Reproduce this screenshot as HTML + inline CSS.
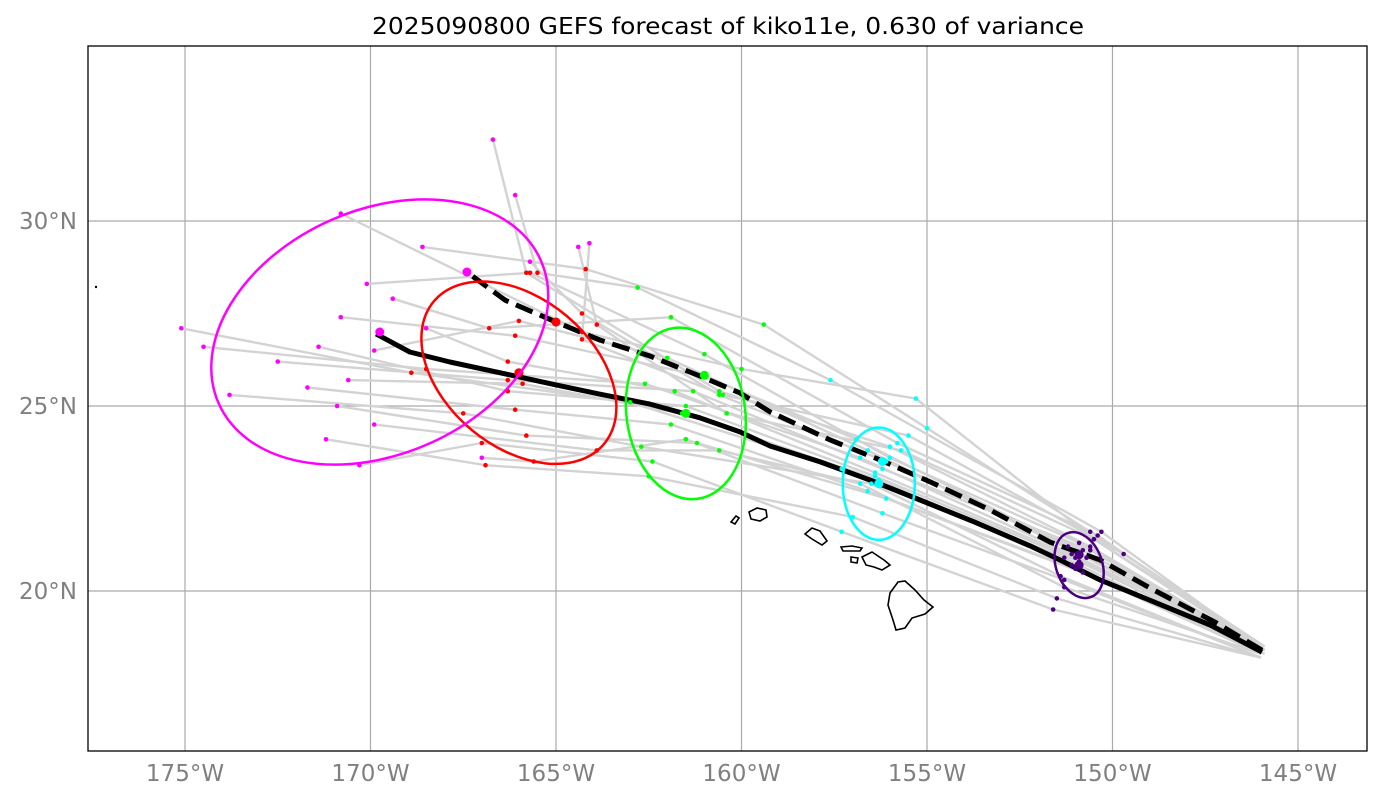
<!DOCTYPE html>
<html><head><meta charset="utf-8"><style>
body{margin:0;background:#fff;font-family:"Liberation Sans","DejaVu Sans",sans-serif}
</style></head><body>
<svg id="chart" width="1382" height="800" xmlns="http://www.w3.org/2000/svg">
<rect width="1382" height="800" fill="#fff"/>
<text x="728" y="34" font-size="23" text-anchor="middle" textLength="712" lengthAdjust="spacingAndGlyphs" font-family="DejaVu Sans, sans-serif">2025090800 GEFS forecast of kiko11e, 0.630 of variance</text>
<defs><clipPath id="clip"><rect x="88" y="46" width="1279" height="705"/></clipPath></defs>
<g id="grid"></g>
<g id="land" fill="none" stroke="#000" stroke-width="1.6">
<path d="M731,522 L736,516 L739,518 L735,524 Z"/>
<path d="M749,512 L757,508 L766,510 L767,517 L760,521 L751,519 Z"/>
<path d="M805,534 L812,528 L820,531 L827,541 L822,545 L812,539 Z"/>
<path d="M841,547 L852,546 L862,548 L860,551 L843,551 Z"/>
<path d="M851,557 L858,558 L857,563 L851,562 Z"/>
<path d="M862,557 L872,552 L878,556 L884,560 L890,565 L882,570 L874,567 L866,565 Z"/>
<path d="M890,593 L898,582 L905,581 L915,590 L924,600 L933,607 L925,614 L912,618 L905,628 L896,630 L893,620 L888,605 Z"/>
</g>
<g id="marks" clip-path="url(#clip)"></g>
<rect x="88" y="46" width="1279" height="705" fill="none" stroke="#000" stroke-width="1.3"/>
<g id="labels" font-family="DejaVu Sans, sans-serif" font-size="23" fill="#808080"></g>
</svg>
<script>
const lonTicks=[-175,-170,-165,-160,-155,-150,-145];
const lonLabels=["175°W","170°W","165°W","160°W","155°W","150°W","145°W"];
const latTicks=[20,25,30];
const latLabels=["20°N","25°N","30°N"];
const meanTrack=[[-145.97,18.35],[-147.37,19.08],[-149.53,19.97],[-150.34,20.30],[-151.42,20.84],[-152.22,21.22],[-153.71,21.86],[-155.19,22.46],[-156.54,23.0],[-157.88,23.49],[-159.23,23.92],[-160.04,24.30],[-161.12,24.68],[-162.47,25.05],[-163.81,25.32],[-165.0,25.57],[-166.24,25.84],[-167.86,26.19],[-168.94,26.46],[-169.85,26.95]];
const dashTrack=[[-145.97,18.4],[-147.24,19.16],[-148.99,20.08],[-150.34,20.84],[-151.68,21.32],[-153.30,22.19],[-154.91,22.95],[-156.26,23.54],[-157.61,24.08],[-159.23,24.84],[-160.04,25.35],[-161.12,25.81],[-162.47,26.35],[-163.81,26.78],[-165.0,27.27],[-166.37,27.86],[-167.40,28.62]];
const memberTracks=[
[[-146.0,18.3],[-151.3,20.9],[-157.3,23.3],[-163.0,25.1],[-168.9,25.9],[-175.1,27.1]],
[[-145.9,18.4],[-151.1,21.0],[-156.8,23.6],[-162.6,25.6],[-168.5,26.0],[-174.5,26.6]],
[[-146.0,18.2],[-151.4,20.4],[-156.5,22.9],[-162.7,23.9],[-167.5,24.8],[-173.8,25.3]],
[[-145.9,18.4],[-150.6,21.1],[-156.2,23.3],[-161.3,25.4],[-166.3,25.7],[-172.5,26.2]],
[[-146.0,18.3],[-151.0,20.6],[-156.6,22.7],[-161.9,24.5],[-166.1,24.9],[-171.7,25.5]],
[[-146.0,18.4],[-150.9,20.8],[-156.4,23.1],[-161.5,25.0],[-166.3,25.4],[-171.4,26.6]],
[[-146.0,18.2],[-151.5,19.8],[-157.0,22.0],[-162.5,23.1],[-166.9,23.4],[-171.2,24.1]],
[[-145.9,18.3],[-150.8,20.5],[-156.1,22.5],[-161.2,24.0],[-165.8,24.2],[-170.9,25.0]],
[[-145.9,18.4],[-150.5,21.4],[-155.3,25.2],[-160.0,26.0],[-164.3,27.0],[-170.8,30.2]],
[[-145.9,18.4],[-151.2,21.2],[-156.9,24.1],[-161.0,25.8],[-166.1,26.9],[-170.8,27.4]],
[[-146.0,18.3],[-151.1,20.7],[-156.3,23.0],[-161.6,24.8],[-165.9,25.6],[-170.6,25.7]],
[[-146.0,18.2],[-151.6,19.5],[-157.3,21.6],[-162.4,23.5],[-167.0,24.0],[-170.3,23.4]],
[[-145.9,18.4],[-150.9,21.3],[-156.0,23.6],[-161.0,26.4],[-165.7,28.6],[-170.1,28.3]],
[[-146.0,18.3],[-151.3,20.1],[-156.8,22.9],[-160.6,23.8],[-163.9,23.8],[-169.9,24.5]],
[[-145.9,18.4],[-150.7,20.9],[-156.6,23.8],[-162.0,26.3],[-166.0,27.3],[-169.9,26.5]],
[[-145.9,18.4],[-150.4,21.5],[-155.8,24.0],[-161.9,27.4],[-166.8,27.1],[-169.4,27.9]],
[[-145.9,18.5],[-150.6,21.6],[-155.0,24.4],[-159.4,27.2],[-164.2,28.7],[-168.6,29.3]],
[[-146.0,18.3],[-151.0,20.9],[-156.4,23.2],[-161.8,25.4],[-166.3,26.2],[-168.5,27.1]],
[[-145.9,18.4],[-150.6,21.2],[-156.0,23.9],[-160.6,25.4],[-165.8,28.6],[-166.7,32.2]],
[[-145.9,18.4],[-150.3,21.6],[-157.6,25.7],[-162.8,28.2],[-165.5,28.6],[-166.1,30.7]],
[[-145.9,18.4],[-150.8,21.1],[-156.1,23.5],[-160.6,25.3],[-164.3,27.5],[-165.7,28.9]],
[[-145.9,18.5],[-150.5,21.4],[-155.7,23.8],[-160.4,24.8],[-163.9,27.2],[-164.4,29.3]],
[[-145.9,18.5],[-149.7,21.0],[-155.5,24.2],[-160.5,25.3],[-164.3,26.8],[-164.1,29.4]],
[[-146.0,18.2],[-151.3,20.3],[-156.2,22.1],[-161.5,24.1],[-165.6,23.5],[-167.0,23.6]]];
const stageColors=["#4b0082","#00ffff","#00ff00","#ff0000","#ff00ff"];
const ellLon=[-150.9,-156.3,-161.5,-166.0,-169.75];
const ellLat=[20.7,22.9,24.8,25.9,27.0];
const ellRx=[0.62,0.97,1.6,2.0,4.75];
const ellRy=[0.92,1.52,2.33,3.0,3.3];
const ellRot=[-20,0,-8,-50,-24];
const detLon=[-150.9,-156.2,-161.0,-165.0,-167.4];
const detLat=[20.98,23.5,25.83,27.27,28.62];
const x=lon=>185+(lon+175)*37.1;
const y=lat=>221-(lat-30)*37;
const NS="http://www.w3.org/2000/svg";
function mk(tag,attrs,parent){const e=document.createElementNS(NS,tag);for(const k in attrs)e.setAttribute(k,attrs[k]);parent.appendChild(e);return e;}
const grid=document.getElementById('grid'),marks=document.getElementById('marks'),labels=document.getElementById('labels');
lonTicks.forEach((t,i)=>{const l=mk('line',{x1:x(t),x2:x(t),y1:46,y2:751,stroke:'#aaa','stroke-width':1.2},grid);

const tx=mk('text',{x:x(t),y:781,'text-anchor':'middle'},labels);tx.textContent=lonLabels[i];
});
latTicks.forEach((t,i)=>{const l=mk('line',{x1:88,x2:1367,y1:y(t),y2:y(t),stroke:'#aaa','stroke-width':1.2},grid);

const tx=mk('text',{x:77,y:y(t)+8,'text-anchor':'end'},labels);tx.textContent=latLabels[i];
});
const pts=a=>a.map(p=>x(p[0]).toFixed(1)+','+y(p[1]).toFixed(1)).join(' ');
memberTracks.forEach(tr=>{const p=mk('polyline',{points:pts(tr),fill:'none',stroke:'#d3d3d3','stroke-width':2.4,'stroke-linejoin':'round'},marks);
});
const m=mk('polyline',{points:pts(meanTrack),fill:'none',stroke:'#000','stroke-width':5,'stroke-linejoin':'round'},marks);

const d=mk('polyline',{points:pts(dashTrack),fill:'none',stroke:'#000','stroke-width':5,'stroke-dasharray':'18,8'},marks);

memberTracks.forEach(tr=>{for(let s=1;s<=5;s++){const c=mk('circle',{cx:x(tr[s][0]),cy:y(tr[s][1]),r:2.3,fill:stageColors[s-1]},marks);
}});
ellLon.forEach((lo,i)=>{const e=mk('ellipse',{cx:x(lo),cy:y(ellLat[i]),rx:ellRx[i]*37.1,ry:ellRy[i]*37,fill:'none',stroke:stageColors[i],'stroke-width':2.5,transform:`rotate(${ellRot[i]} ${x(lo)} ${y(ellLat[i])})`},marks);

const c=mk('circle',{cx:x(lo),cy:y(ellLat[i]),r:4.5,fill:stageColors[i]},marks);

const c2=mk('circle',{cx:x(detLon[i]),cy:y(detLat[i]),r:4.5,fill:stageColors[i]},marks);
});
const dot=mk('circle',{cx:96,cy:287,r:1.2,fill:'#000'},marks);

</script>
</body></html>
